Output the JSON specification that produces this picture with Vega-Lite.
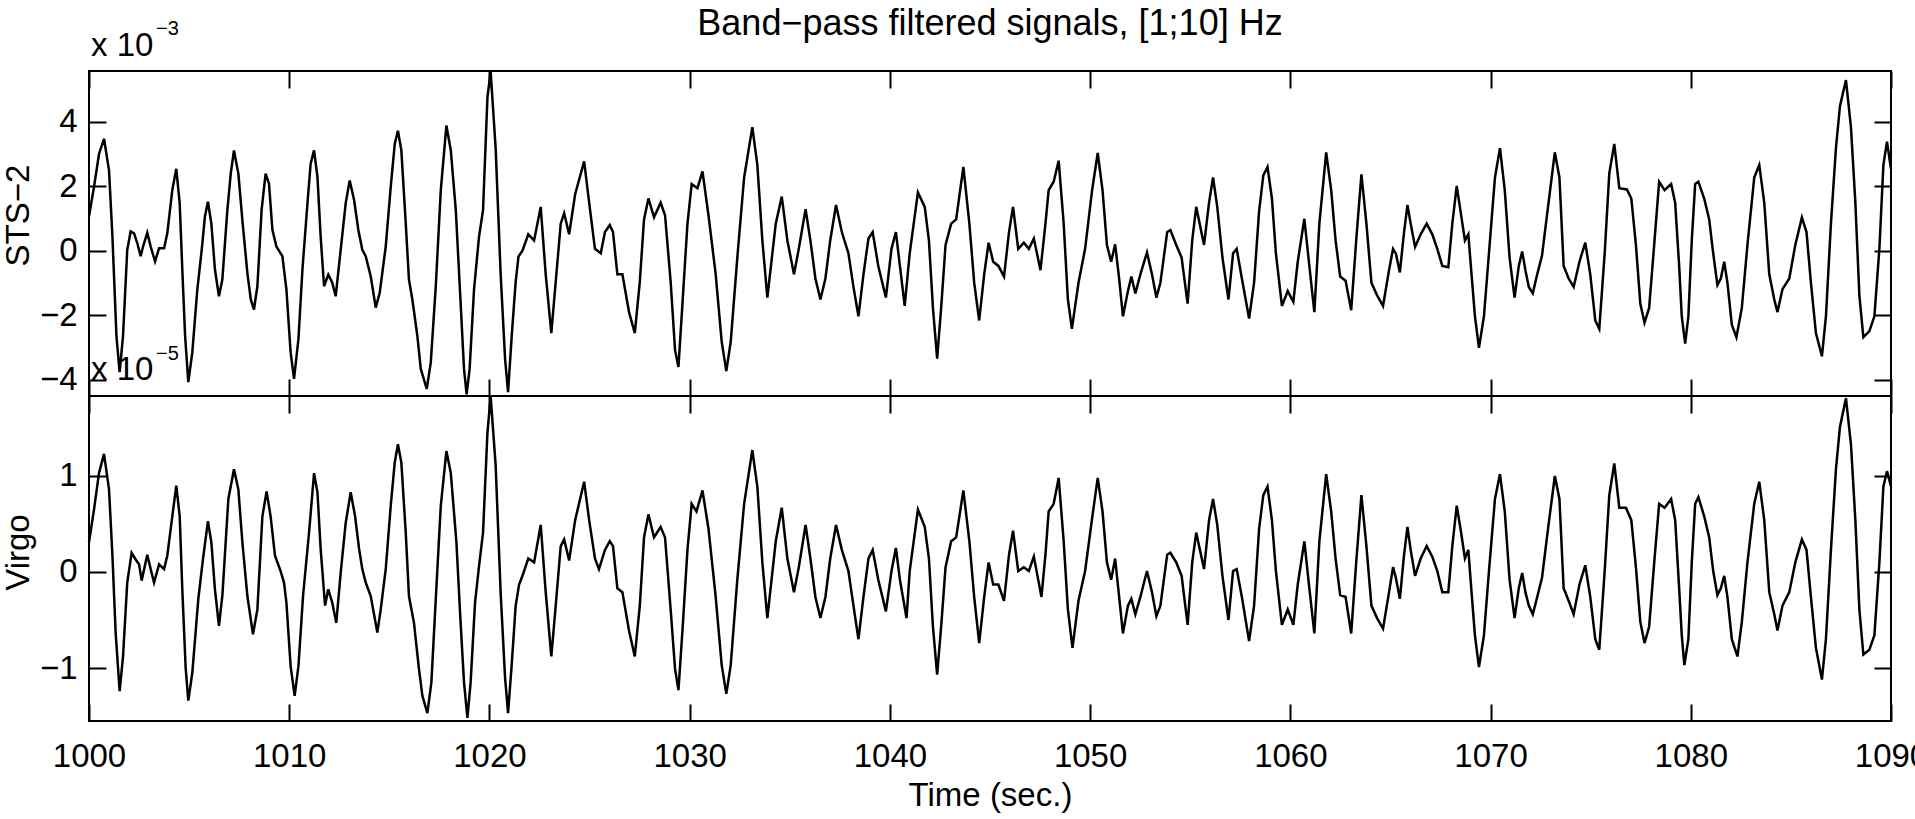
{
 "$schema": "https://vega.github.io/schema/vega-lite/v6.json",
 "padding": {"left": 1, "top": 5, "right": 0, "bottom": 0},
 "background": "white",
 "spacing": 0,
 "bounds": "flush",
 "config": {
  "view": {"stroke": "black", "strokeWidth": 2},
  "axis": {"domain": false, "grid": false, "ticks": true, "tickColor": "black", "tickWidth": 2, "tickSize": -17,
           "labelFont": "Liberation Sans", "labelFontSize": 33, "labelColor": "black", "labelFlush": false, "labelOverlap": false,
           "titleFont": "Liberation Sans", "titleFontSize": 33, "titleFontWeight": "normal", "titleColor": "black"},
  "text": {"font": "Liberation Sans", "color": "black"}
 },
 "datasets": {
  "sts_note": [{"t": 1000, "v": 5.57}],
  "virgo_note": [{"t": 1000, "v": 1.833}],
  "sts": [
{"t":1000.0,"v":1.06},{"t":1000.25,"v":1.98},{"t":1000.5,"v":3.0},{"t":1000.75,"v":3.47},{"t":1001.0,"v":2.49},{"t":1001.17,"v":0.44},{"t":1001.37,"v":-2.64},{"t":1001.53,"v":-3.76},{"t":1001.7,"v":-2.64},{"t":1001.91,"v":0.03},{"t":1002.08,"v":0.6},{"t":1002.25,"v":0.54},{"t":1002.41,"v":0.24},{"t":1002.58,"v":-0.17},{"t":1002.7,"v":0.13},{"t":1002.91,"v":0.56},{"t":1003.08,"v":0.13},{"t":1003.3,"v":-0.33},{"t":1003.5,"v":0.08},{"t":1003.75,"v":0.08},{"t":1003.91,"v":0.54},{"t":1004.16,"v":1.88},{"t":1004.36,"v":2.54},{"t":1004.53,"v":1.47},{"t":1004.66,"v":-0.58},{"t":1004.8,"v":-2.64},{"t":1004.96,"v":-4.07},{"t":1005.16,"v":-3.15},{"t":1005.41,"v":-1.2},{"t":1005.63,"v":0.03},{"t":1005.79,"v":1.06},{"t":1005.94,"v":1.52},{"t":1006.11,"v":0.85},{"t":1006.29,"v":-0.58},{"t":1006.49,"v":-1.41},{"t":1006.66,"v":-0.89},{"t":1006.91,"v":1.26},{"t":1007.08,"v":2.39},{"t":1007.24,"v":3.11},{"t":1007.46,"v":2.39},{"t":1007.66,"v":0.95},{"t":1007.91,"v":-0.69},{"t":1008.08,"v":-1.51},{"t":1008.24,"v":-1.82},{"t":1008.41,"v":-1.1},{"t":1008.62,"v":1.26},{"t":1008.82,"v":2.39},{"t":1008.99,"v":2.08},{"t":1009.16,"v":0.65},{"t":1009.36,"v":0.13},{"t":1009.66,"v":-0.17},{"t":1009.86,"v":-1.2},{"t":1010.07,"v":-3.15},{"t":1010.24,"v":-3.97},{"t":1010.46,"v":-2.74},{"t":1010.66,"v":-0.58},{"t":1010.91,"v":1.47},{"t":1011.07,"v":2.7},{"t":1011.24,"v":3.11},{"t":1011.41,"v":2.29},{"t":1011.57,"v":0.44},{"t":1011.74,"v":-1.1},{"t":1011.95,"v":-0.74},{"t":1012.15,"v":-0.99},{"t":1012.32,"v":-1.41},{"t":1012.57,"v":0.03},{"t":1012.82,"v":1.47},{"t":1013.02,"v":2.18},{"t":1013.24,"v":1.57},{"t":1013.45,"v":0.65},{"t":1013.65,"v":0.03},{"t":1013.82,"v":-0.17},{"t":1014.07,"v":-0.79},{"t":1014.32,"v":-1.76},{"t":1014.52,"v":-1.3},{"t":1014.82,"v":0.13},{"t":1015.07,"v":1.98},{"t":1015.27,"v":3.31},{"t":1015.43,"v":3.72},{"t":1015.6,"v":3.11},{"t":1015.82,"v":0.85},{"t":1015.98,"v":-0.89},{"t":1016.15,"v":-1.51},{"t":1016.4,"v":-2.64},{"t":1016.57,"v":-3.66},{"t":1016.87,"v":-4.28},{"t":1017.07,"v":-3.46},{"t":1017.32,"v":-1.1},{"t":1017.57,"v":1.88},{"t":1017.85,"v":3.88},{"t":1018.07,"v":3.11},{"t":1018.32,"v":1.26},{"t":1018.56,"v":-1.61},{"t":1018.73,"v":-3.66},{"t":1018.86,"v":-4.45},{"t":1019.01,"v":-3.66},{"t":1019.23,"v":-1.2},{"t":1019.48,"v":0.44},{"t":1019.68,"v":1.26},{"t":1019.9,"v":4.75},{"t":1020.06,"v":5.55},
{"t":1020.31,"v":3.18},{"t":1020.56,"v":-0.73},{"t":1020.78,"v":-3.34},{"t":1020.93,"v":-4.38},{"t":1021.11,"v":-2.66},{"t":1021.31,"v":-0.96},{"t":1021.45,"v":-0.18},{"t":1021.65,"v":0.0},{"t":1021.94,"v":0.51},{"t":1022.23,"v":0.32},{"t":1022.56,"v":1.36},{"t":1022.81,"v":-0.73},{"t":1023.09,"v":-2.55},{"t":1023.31,"v":-0.96},{"t":1023.56,"v":0.84},{"t":1023.73,"v":1.16},{"t":1023.98,"v":0.51},{"t":1024.28,"v":1.75},{"t":1024.73,"v":2.77},{"t":1024.98,"v":1.49},{"t":1025.27,"v":0.06},{"t":1025.56,"v":-0.08},{"t":1025.77,"v":0.58},{"t":1026.01,"v":0.8},{"t":1026.17,"v":0.58},{"t":1026.39,"v":-0.73},{"t":1026.64,"v":-0.73},{"t":1026.97,"v":-1.9},{"t":1027.26,"v":-2.55},{"t":1027.51,"v":-0.96},{"t":1027.72,"v":0.97},{"t":1027.94,"v":1.62},{"t":1028.22,"v":1.04},{"t":1028.55,"v":1.49},{"t":1028.77,"v":1.1},{"t":1029.05,"v":-0.96},{"t":1029.27,"v":-3.08},{"t":1029.44,"v":-3.6},{"t":1029.64,"v":-1.64},{"t":1029.89,"v":0.84},{"t":1030.1,"v":2.07},{"t":1030.39,"v":1.94},{"t":1030.64,"v":2.46},{"t":1030.94,"v":1.1},{"t":1031.3,"v":-0.73},{"t":1031.6,"v":-2.82},{"t":1031.83,"v":-3.73},{"t":1032.05,"v":-2.82},{"t":1032.38,"v":-0.21},{"t":1032.72,"v":2.27},{"t":1033.13,"v":3.83},{"t":1033.38,"v":2.66},{"t":1033.63,"v":0.32},{"t":1033.88,"v":-1.45},{"t":1034.3,"v":0.84},{"t":1034.6,"v":1.68},{"t":1034.88,"v":0.32},
{"t":1035.21,"v":-0.73},{"t":1035.45,"v":0.06},{"t":1035.79,"v":1.29},{"t":1036.03,"v":0.32},{"t":1036.28,"v":-0.86},{"t":1036.53,"v":-1.51},{"t":1036.78,"v":-0.86},{"t":1037.02,"v":0.32},{"t":1037.31,"v":1.42},{"t":1037.6,"v":0.58},{"t":1037.93,"v":-0.08},{"t":1038.18,"v":-1.12},{"t":1038.43,"v":-2.03},{"t":1038.68,"v":-0.73},{"t":1038.93,"v":0.38},{"t":1039.14,"v":0.58},{"t":1039.42,"v":-0.47},{"t":1039.8,"v":-1.45},{"t":1040.08,"v":0.06},{"t":1040.3,"v":0.58},{"t":1040.5,"v":-0.47},{"t":1040.74,"v":-1.71},{"t":1040.99,"v":-0.08},{"t":1041.4,"v":1.81},{"t":1041.74,"v":1.36},{"t":1041.95,"v":0.32},{"t":1042.15,"v":-1.77},{"t":1042.36,"v":-3.34},{"t":1042.56,"v":-1.77},{"t":1042.78,"v":0.18},{"t":1043.06,"v":0.84},{"t":1043.31,"v":0.97},{"t":1043.67,"v":2.6},{"t":1043.97,"v":0.84},{"t":1044.21,"v":-0.99},{"t":1044.46,"v":-2.16},{"t":1044.71,"v":-0.73},{"t":1044.93,"v":0.25},{"t":1045.16,"v":-0.34},{"t":1045.42,"v":-0.47},{"t":1045.7,"v":-0.8},{"t":1045.95,"v":0.58},{"t":1046.15,"v":1.36},{"t":1046.41,"v":0.06},{"t":1046.69,"v":0.25},{"t":1046.94,"v":0.06},{"t":1047.19,"v":0.38},{"t":1047.52,"v":-0.6},{"t":1047.77,"v":0.84},{"t":1047.93,"v":1.88},{"t":1048.18,"v":2.14},{"t":1048.43,"v":2.79},{"t":1048.68,"v":0.84},{"t":1048.89,"v":-1.51},{"t":1049.09,"v":-2.42},{"t":1049.42,"v":-0.99},{"t":1049.75,"v":0.06},{"t":1050.1,"v":1.88},
{"t":1050.38,"v":3.03},{"t":1050.62,"v":1.88},{"t":1050.84,"v":0.18},{"t":1051.05,"v":-0.34},{"t":1051.25,"v":0.2},{"t":1051.45,"v":-0.86},{"t":1051.64,"v":-2.03},{"t":1051.89,"v":-1.25},{"t":1052.06,"v":-0.8},{"t":1052.26,"v":-1.32},{"t":1052.51,"v":-0.73},{"t":1052.84,"v":-0.05},{"t":1053.09,"v":-0.73},{"t":1053.31,"v":-1.45},{"t":1053.51,"v":-0.99},{"t":1053.85,"v":0.58},{"t":1054.01,"v":0.64},{"t":1054.3,"v":0.18},{"t":1054.57,"v":-0.21},{"t":1054.87,"v":-1.64},{"t":1055.1,"v":0.32},{"t":1055.3,"v":1.36},{"t":1055.69,"v":0.18},{"t":1055.94,"v":1.49},{"t":1056.14,"v":2.27},{"t":1056.35,"v":1.36},{"t":1056.61,"v":-0.21},{"t":1056.91,"v":-1.51},{"t":1057.14,"v":-0.08},{"t":1057.32,"v":0.06},{"t":1057.58,"v":-0.86},{"t":1057.94,"v":-2.1},{"t":1058.19,"v":-0.99},{"t":1058.44,"v":1.23},{"t":1058.65,"v":2.34},{"t":1058.86,"v":2.6},{"t":1059.08,"v":1.62},{"t":1059.28,"v":-0.08},{"t":1059.58,"v":-1.71},{"t":1059.87,"v":-1.25},{"t":1060.15,"v":-1.58},{"t":1060.37,"v":-0.34},{"t":1060.7,"v":0.99},{"t":1060.95,"v":-0.47},{"t":1061.2,"v":-1.9},{"t":1061.45,"v":0.84},{"t":1061.79,"v":3.05},{"t":1062.04,"v":1.88},{"t":1062.26,"v":0.32},{"t":1062.49,"v":-0.8},{"t":1062.76,"v":-0.93},{"t":1063.04,"v":-1.84},{"t":1063.29,"v":0.32},{"t":1063.55,"v":2.37},{"t":1063.8,"v":0.84},{"t":1064.05,"v":-0.99},{"t":1064.33,"v":-1.38},{"t":1064.63,"v":-1.71},{"t":1064.93,"v":-0.6},
{"t":1065.13,"v":0.06},{"t":1065.27,"v":-0.08},{"t":1065.47,"v":-0.67},{"t":1065.68,"v":0.58},{"t":1065.85,"v":1.42},{"t":1066.01,"v":0.84},{"t":1066.23,"v":0.12},{"t":1066.51,"v":0.51},{"t":1066.81,"v":0.84},{"t":1067.09,"v":0.51},{"t":1067.34,"v":0.06},{"t":1067.59,"v":-0.47},{"t":1067.89,"v":-0.51},{"t":1068.09,"v":0.84},{"t":1068.31,"v":2.01},{"t":1068.5,"v":1.23},{"t":1068.72,"v":0.32},{"t":1068.89,"v":0.51},{"t":1069.05,"v":-0.73},{"t":1069.22,"v":-2.03},{"t":1069.42,"v":-3.01},{"t":1069.67,"v":-2.03},{"t":1069.92,"v":-0.08},{"t":1070.22,"v":2.27},{"t":1070.47,"v":3.18},{"t":1070.71,"v":1.88},{"t":1070.95,"v":-0.21},{"t":1071.2,"v":-1.45},{"t":1071.41,"v":-0.47},{"t":1071.58,"v":-0.02},{"t":1071.74,"v":-0.6},{"t":1071.91,"v":-1.12},{"t":1072.11,"v":-1.32},{"t":1072.33,"v":-0.73},{"t":1072.57,"v":-0.15},{"t":1072.87,"v":1.36},{"t":1073.21,"v":3.05},{"t":1073.44,"v":2.27},{"t":1073.65,"v":-0.47},{"t":1073.9,"v":-0.86},{"t":1074.15,"v":-1.12},{"t":1074.44,"v":-0.34},{"t":1074.73,"v":0.25},{"t":1074.98,"v":-0.73},{"t":1075.23,"v":-2.16},{"t":1075.43,"v":-2.42},{"t":1075.7,"v":-0.08},{"t":1075.93,"v":2.4},{"t":1076.18,"v":3.31},{"t":1076.43,"v":1.94},{"t":1076.81,"v":1.9},{"t":1077.03,"v":1.62},{"t":1077.26,"v":0.18},{"t":1077.48,"v":-1.64},{"t":1077.69,"v":-2.23},{"t":1077.92,"v":-1.77},{"t":1078.19,"v":0.32},{"t":1078.42,"v":2.14},{"t":1078.69,"v":1.88},{"t":1079.02,"v":2.07},{"t":1079.22,"v":1.49},{"t":1079.42,"v":-0.47},{"t":1079.55,"v":-2.03},{"t":1079.72,"v":-2.88},{"t":1079.88,"v":-2.03},{"t":1080.05,"v":0.32},{"t":1080.22,"v":2.07},
{"t":1080.38,"v":2.14},{"t":1080.67,"v":1.62},{"t":1080.92,"v":0.97},{"t":1081.12,"v":-0.08},{"t":1081.33,"v":-1.06},{"t":1081.5,"v":-0.86},{"t":1081.67,"v":-0.34},{"t":1081.83,"v":-0.99},{"t":1082.05,"v":-2.29},{"t":1082.28,"v":-2.68},{"t":1082.55,"v":-1.77},{"t":1082.83,"v":0.18},{"t":1083.17,"v":2.27},{"t":1083.42,"v":2.66},{"t":1083.67,"v":1.49},{"t":1083.92,"v":-0.73},{"t":1084.17,"v":-1.51},{"t":1084.33,"v":-1.9},{"t":1084.58,"v":-1.19},{"t":1084.92,"v":-0.86},{"t":1085.22,"v":0.18},{"t":1085.55,"v":1.03},{"t":1085.78,"v":0.58},{"t":1086.0,"v":-0.99},{"t":1086.25,"v":-2.55},{"t":1086.55,"v":-3.27},{"t":1086.75,"v":-2.03},{"t":1087.0,"v":0.84},{"t":1087.25,"v":3.18},{"t":1087.45,"v":4.48},{"t":1087.75,"v":5.29},{"t":1088.0,"v":3.83},{"t":1088.22,"v":1.49},{"t":1088.42,"v":-1.38},{"t":1088.62,"v":-2.68},{"t":1088.92,"v":-2.49},{"t":1089.17,"v":-2.03},{"t":1089.42,"v":0.06},{"t":1089.62,"v":2.66},{"t":1089.8,"v":3.38},{"t":1090.0,"v":2.53}
  ],
  "virgo": [
{"t":1000.0,"v":0.31},{"t":1000.25,"v":0.65},{"t":1000.5,"v":1.03},{"t":1000.75,"v":1.23},{"t":1001.0,"v":0.86},{"t":1001.17,"v":0.17},{"t":1001.33,"v":-0.63},{"t":1001.53,"v":-1.24},{"t":1001.7,"v":-0.88},{"t":1001.91,"v":-0.11},{"t":1002.13,"v":0.2},{"t":1002.33,"v":0.13},{"t":1002.5,"v":0.08},{"t":1002.63,"v":-0.09},{"t":1002.91,"v":0.18},{"t":1003.08,"v":0.03},{"t":1003.25,"v":-0.11},{"t":1003.5,"v":0.08},{"t":1003.75,"v":0.03},{"t":1003.91,"v":0.17},{"t":1004.16,"v":0.58},{"t":1004.36,"v":0.9},{"t":1004.53,"v":0.58},{"t":1004.66,"v":-0.18},{"t":1004.83,"v":-1.01},{"t":1004.96,"v":-1.34},{"t":1005.16,"v":-1.05},{"t":1005.46,"v":-0.28},{"t":1005.69,"v":0.13},{"t":1005.94,"v":0.53},{"t":1006.11,"v":0.31},{"t":1006.29,"v":-0.18},{"t":1006.49,"v":-0.56},{"t":1006.66,"v":-0.25},{"t":1006.96,"v":0.76},{"t":1007.24,"v":1.07},{"t":1007.46,"v":0.86},{"t":1007.66,"v":0.31},{"t":1007.91,"v":-0.25},{"t":1008.19,"v":-0.65},{"t":1008.41,"v":-0.39},{"t":1008.66,"v":0.58},{"t":1008.87,"v":0.84},{"t":1009.07,"v":0.58},{"t":1009.29,"v":0.17},{"t":1009.57,"v":0.01},{"t":1009.74,"v":-0.11},{"t":1009.86,"v":-0.32},{"t":1010.07,"v":-0.98},{"t":1010.27,"v":-1.29},{"t":1010.46,"v":-0.98},{"t":1010.69,"v":-0.25},{"t":1010.99,"v":0.41},{"t":1011.24,"v":1.03},{"t":1011.41,"v":0.83},{"t":1011.57,"v":0.24},{"t":1011.79,"v":-0.35},{"t":1011.95,"v":-0.18},{"t":1012.15,"v":-0.32},{"t":1012.35,"v":-0.53},{"t":1012.57,"v":-0.01},{"t":1012.82,"v":0.51},{"t":1013.07,"v":0.83},{"t":1013.29,"v":0.58},{"t":1013.49,"v":0.24},{"t":1013.65,"v":0.03},{"t":1013.82,"v":-0.11},{"t":1014.07,"v":-0.25},{"t":1014.4,"v":-0.63},{"t":1014.57,"v":-0.39},{"t":1014.82,"v":0.03},{"t":1015.07,"v":0.69},{"t":1015.27,"v":1.14},{"t":1015.43,"v":1.33},{"t":1015.6,"v":1.14},{"t":1015.82,"v":0.41},{"t":1015.98,"v":-0.25},{"t":1016.23,"v":-0.53},{"t":1016.48,"v":-1.01},{"t":1016.65,"v":-1.29},{"t":1016.9,"v":-1.47},{"t":1017.1,"v":-1.15},{"t":1017.32,"v":-0.28},{"t":1017.57,"v":0.69},{"t":1017.85,"v":1.26},{"t":1018.07,"v":1.03},{"t":1018.35,"v":0.31},{"t":1018.56,"v":-0.53},{"t":1018.73,"v":-1.15},{"t":1018.9,"v":-1.52},{"t":1019.06,"v":-1.15},{"t":1019.28,"v":-0.32},{"t":1019.48,"v":0.06},{"t":1019.68,"v":0.41},{"t":1019.9,"v":1.45},{"t":1020.06,"v":1.83},
{"t":1020.31,"v":1.11},{"t":1020.56,"v":-0.22},{"t":1020.78,"v":-1.1},{"t":1020.93,"v":-1.47},{"t":1021.11,"v":-0.97},{"t":1021.31,"v":-0.35},{"t":1021.48,"v":-0.13},{"t":1021.65,"v":-0.04},{"t":1021.94,"v":0.14},{"t":1022.23,"v":0.1},{"t":1022.56,"v":0.49},{"t":1022.81,"v":-0.21},{"t":1023.09,"v":-0.88},{"t":1023.31,"v":-0.35},{"t":1023.56,"v":0.27},{"t":1023.73,"v":0.34},{"t":1023.98,"v":0.12},{"t":1024.28,"v":0.54},{"t":1024.73,"v":0.94},{"t":1024.98,"v":0.54},{"t":1025.27,"v":0.14},{"t":1025.47,"v":0.03},{"t":1025.77,"v":0.23},{"t":1026.01,"v":0.32},{"t":1026.17,"v":0.27},{"t":1026.39,"v":-0.17},{"t":1026.64,"v":-0.21},{"t":1026.97,"v":-0.61},{"t":1027.26,"v":-0.88},{"t":1027.51,"v":-0.35},{"t":1027.72,"v":0.36},{"t":1027.94,"v":0.6},{"t":1028.22,"v":0.36},{"t":1028.55,"v":0.47},{"t":1028.77,"v":0.36},{"t":1029.05,"v":-0.39},{"t":1029.27,"v":-1.01},{"t":1029.44,"v":-1.23},{"t":1029.64,"v":-0.61},{"t":1029.89,"v":0.23},{"t":1030.1,"v":0.71},{"t":1030.34,"v":0.63},{"t":1030.64,"v":0.85},{"t":1030.94,"v":0.45},{"t":1031.3,"v":-0.26},{"t":1031.6,"v":-0.97},{"t":1031.83,"v":-1.27},{"t":1032.05,"v":-0.97},{"t":1032.38,"v":-0.08},{"t":1032.72,"v":0.71},{"t":1033.13,"v":1.27},{"t":1033.38,"v":0.89},{"t":1033.63,"v":0.1},{"t":1033.88,"v":-0.48},{"t":1034.3,"v":0.32},{"t":1034.6,"v":0.67},{"t":1034.88,"v":0.14},
{"t":1035.21,"v":-0.21},{"t":1035.45,"v":0.05},{"t":1035.79,"v":0.49},{"t":1036.03,"v":0.14},{"t":1036.28,"v":-0.26},{"t":1036.53,"v":-0.48},{"t":1036.78,"v":-0.26},{"t":1037.02,"v":0.14},{"t":1037.31,"v":0.49},{"t":1037.6,"v":0.23},{"t":1037.93,"v":0.01},{"t":1038.18,"v":-0.35},{"t":1038.43,"v":-0.7},{"t":1038.68,"v":-0.26},{"t":1038.93,"v":0.14},{"t":1039.14,"v":0.23},{"t":1039.42,"v":-0.08},{"t":1039.8,"v":-0.41},{"t":1040.08,"v":0.01},{"t":1040.3,"v":0.25},{"t":1040.5,"v":-0.08},{"t":1040.83,"v":-0.48},{"t":1040.99,"v":0.01},{"t":1041.4,"v":0.65},{"t":1041.74,"v":0.47},{"t":1041.95,"v":0.14},{"t":1042.15,"v":-0.57},{"t":1042.36,"v":-1.07},{"t":1042.56,"v":-0.57},{"t":1042.78,"v":0.05},{"t":1043.06,"v":0.32},{"t":1043.31,"v":0.36},{"t":1043.67,"v":0.85},{"t":1043.97,"v":0.32},{"t":1044.21,"v":-0.26},{"t":1044.46,"v":-0.74},{"t":1044.71,"v":-0.26},{"t":1044.93,"v":0.1},{"t":1045.16,"v":-0.13},{"t":1045.42,"v":-0.13},{"t":1045.7,"v":-0.3},{"t":1045.95,"v":0.18},{"t":1046.15,"v":0.43},{"t":1046.41,"v":0.01},{"t":1046.69,"v":0.05},{"t":1046.94,"v":0.01},{"t":1047.19,"v":0.16},{"t":1047.57,"v":-0.26},{"t":1047.77,"v":0.18},{"t":1047.93,"v":0.63},{"t":1048.18,"v":0.71},{"t":1048.43,"v":0.98},{"t":1048.68,"v":0.32},{"t":1048.89,"v":-0.39},{"t":1049.12,"v":-0.79},{"t":1049.42,"v":-0.3},{"t":1049.75,"v":0.01},{"t":1050.1,"v":0.56},
{"t":1050.38,"v":0.98},{"t":1050.62,"v":0.63},{"t":1050.84,"v":0.1},{"t":1051.05,"v":-0.08},{"t":1051.25,"v":0.14},{"t":1051.45,"v":-0.26},{"t":1051.64,"v":-0.64},{"t":1051.89,"v":-0.35},{"t":1052.06,"v":-0.28},{"t":1052.26,"v":-0.44},{"t":1052.51,"v":-0.26},{"t":1052.84,"v":0.01},{"t":1053.09,"v":-0.21},{"t":1053.31,"v":-0.46},{"t":1053.51,"v":-0.35},{"t":1053.85,"v":0.18},{"t":1054.01,"v":0.2},{"t":1054.3,"v":0.1},{"t":1054.57,"v":-0.04},{"t":1054.87,"v":-0.55},{"t":1055.1,"v":0.1},{"t":1055.3,"v":0.41},{"t":1055.69,"v":0.03},{"t":1055.94,"v":0.54},{"t":1056.14,"v":0.76},{"t":1056.35,"v":0.49},{"t":1056.61,"v":-0.04},{"t":1056.91,"v":-0.5},{"t":1057.14,"v":0.01},{"t":1057.32,"v":0.03},{"t":1057.58,"v":-0.26},{"t":1057.94,"v":-0.72},{"t":1058.19,"v":-0.35},{"t":1058.44,"v":0.45},{"t":1058.65,"v":0.8},{"t":1058.86,"v":0.89},{"t":1059.08,"v":0.54},{"t":1059.28,"v":0.01},{"t":1059.58,"v":-0.55},{"t":1059.87,"v":-0.39},{"t":1060.15,"v":-0.55},{"t":1060.37,"v":-0.13},{"t":1060.7,"v":0.32},{"t":1060.95,"v":-0.17},{"t":1061.2,"v":-0.64},{"t":1061.45,"v":0.32},{"t":1061.79,"v":1.02},{"t":1062.04,"v":0.63},{"t":1062.26,"v":0.14},{"t":1062.49,"v":-0.24},{"t":1062.76,"v":-0.26},{"t":1063.04,"v":-0.64},{"t":1063.29,"v":0.1},{"t":1063.55,"v":0.8},{"t":1063.8,"v":0.27},{"t":1064.05,"v":-0.35},{"t":1064.33,"v":-0.48},{"t":1064.63,"v":-0.59},{"t":1064.93,"v":-0.21},
{"t":1065.13,"v":0.05},{"t":1065.27,"v":-0.06},{"t":1065.47,"v":-0.28},{"t":1065.68,"v":0.18},{"t":1065.85,"v":0.47},{"t":1066.01,"v":0.23},{"t":1066.23,"v":-0.04},{"t":1066.51,"v":0.14},{"t":1066.81,"v":0.27},{"t":1067.09,"v":0.16},{"t":1067.34,"v":0.01},{"t":1067.59,"v":-0.21},{"t":1067.89,"v":-0.21},{"t":1068.09,"v":0.27},{"t":1068.31,"v":0.69},{"t":1068.5,"v":0.45},{"t":1068.72,"v":0.14},{"t":1068.89,"v":0.23},{"t":1069.05,"v":-0.21},{"t":1069.22,"v":-0.66},{"t":1069.42,"v":-0.99},{"t":1069.67,"v":-0.66},{"t":1069.92,"v":0.01},{"t":1070.22,"v":0.76},{"t":1070.47,"v":1.02},{"t":1070.71,"v":0.63},{"t":1070.95,"v":-0.08},{"t":1071.2,"v":-0.48},{"t":1071.41,"v":-0.17},{"t":1071.58,"v":-0.01},{"t":1071.74,"v":-0.21},{"t":1071.91,"v":-0.35},{"t":1072.11,"v":-0.44},{"t":1072.33,"v":-0.26},{"t":1072.57,"v":-0.06},{"t":1072.87,"v":0.45},{"t":1073.21,"v":1.0},{"t":1073.44,"v":0.76},{"t":1073.65,"v":-0.17},{"t":1073.9,"v":-0.3},{"t":1074.15,"v":-0.44},{"t":1074.44,"v":-0.13},{"t":1074.73,"v":0.07},{"t":1074.98,"v":-0.26},{"t":1075.23,"v":-0.7},{"t":1075.43,"v":-0.81},{"t":1075.7,"v":0.01},{"t":1075.93,"v":0.8},{"t":1076.18,"v":1.13},{"t":1076.43,"v":0.67},{"t":1076.76,"v":0.67},{"t":1077.03,"v":0.54},{"t":1077.26,"v":0.05},{"t":1077.48,"v":-0.52},{"t":1077.69,"v":-0.74},{"t":1077.92,"v":-0.57},{"t":1078.19,"v":0.14},{"t":1078.42,"v":0.71},{"t":1078.69,"v":0.67},{"t":1079.02,"v":0.76},{"t":1079.22,"v":0.54},{"t":1079.42,"v":-0.17},{"t":1079.55,"v":-0.66},{"t":1079.68,"v":-0.97},{"t":1079.88,"v":-0.7},{"t":1080.05,"v":0.1},{"t":1080.22,"v":0.71},
{"t":1080.38,"v":0.78},{"t":1080.67,"v":0.58},{"t":1080.92,"v":0.36},{"t":1081.12,"v":0.01},{"t":1081.33,"v":-0.24},{"t":1081.5,"v":-0.17},{"t":1081.67,"v":-0.04},{"t":1081.83,"v":-0.26},{"t":1082.05,"v":-0.7},{"t":1082.33,"v":-0.88},{"t":1082.55,"v":-0.52},{"t":1082.83,"v":0.1},{"t":1083.17,"v":0.71},{"t":1083.42,"v":0.94},{"t":1083.67,"v":0.54},{"t":1083.92,"v":-0.21},{"t":1084.17,"v":-0.44},{"t":1084.33,"v":-0.61},{"t":1084.58,"v":-0.35},{"t":1084.92,"v":-0.21},{"t":1085.22,"v":0.1},{"t":1085.55,"v":0.34},{"t":1085.78,"v":0.23},{"t":1086.0,"v":-0.26},{"t":1086.25,"v":-0.79},{"t":1086.55,"v":-1.12},{"t":1086.75,"v":-0.7},{"t":1087.0,"v":0.23},{"t":1087.25,"v":1.07},{"t":1087.45,"v":1.51},{"t":1087.75,"v":1.81},{"t":1088.0,"v":1.33},{"t":1088.22,"v":0.54},{"t":1088.42,"v":-0.39},{"t":1088.62,"v":-0.86},{"t":1088.92,"v":-0.81},{"t":1089.17,"v":-0.66},{"t":1089.42,"v":0.1},{"t":1089.62,"v":0.89},{"t":1089.8,"v":1.05},{"t":1090.0,"v":0.89}
  ]
 },
 "vconcat": [
  {
   "width": 1802, "height": 325,
   "title": {"text": "Band−pass filtered signals, [1;10] Hz", "font": "Liberation Sans", "fontSize": 36, "fontWeight": "normal", "color": "black", "anchor": "middle", "frame": "group", "baseline": "alphabetic", "offset": 35, "dy": 87},
   "resolve": {"axis": {"x": "independent", "y": "independent"}},
   "layer": [
    {"data": {"name": "sts"}, "mark": {"type": "line", "color": "black", "strokeWidth": 2.5},
     "encoding": {
      "x": {"field": "t", "type": "quantitative", "scale": {"domain": [1000, 1090], "nice": false, "zero": false},
            "axis": {"orient": "bottom", "values": [1000,1010,1020,1030,1040,1050,1060,1070,1080,1090], "labels": false, "title": null}},
      "y": {"field": "v", "type": "quantitative", "scale": {"domain": [-4.5, 5.57], "nice": false, "zero": false},
            "axis": {"orient": "left", "values": [-4,-2,0,2,4], "title": "STS−2", "labelPadding": 29, "titlePadding": 4, "titleY": 144}}
     }},
    {"data": {"name": "sts_note"}, "mark": {"type": "text", "text": "x 10", "fontSize": 33, "align": "left", "baseline": "alphabetic", "dx": 2, "dy": -15},
     "encoding": {
      "x": {"field": "t", "type": "quantitative", "axis": {"orient": "top", "values": [1000,1010,1020,1030,1040,1050,1060,1070,1080,1090], "labels": false, "title": null}},
      "y": {"field": "v", "type": "quantitative", "axis": {"orient": "right", "values": [-4,-2,0,2,4], "labels": false, "title": null}}
     }},
    {"data": {"name": "sts_note"}, "mark": {"type": "text", "text": "−3", "fontSize": 20, "align": "left", "baseline": "alphabetic", "dx": 67, "dy": -36},
     "encoding": {
      "x": {"field": "t", "type": "quantitative", "axis": null},
      "y": {"field": "v", "type": "quantitative", "axis": null}
     }}
   ]
  },
  {
   "width": 1802, "height": 325,
   "resolve": {"axis": {"x": "independent", "y": "independent"}},
   "layer": [
    {"data": {"name": "virgo"}, "mark": {"type": "line", "color": "black", "strokeWidth": 2.5},
     "encoding": {
      "x": {"field": "t", "type": "quantitative", "scale": {"domain": [1000, 1090], "nice": false, "zero": false},
            "axis": {"orient": "bottom", "values": [1000,1010,1020,1030,1040,1050,1060,1070,1080,1090], "format": "d", "title": "Time (sec.)", "labelPadding": 36, "titlePadding": 6}},
      "y": {"field": "v", "type": "quantitative", "scale": {"domain": [-1.552, 1.833], "nice": false, "zero": false},
            "axis": {"orient": "left", "values": [-1,0,1], "title": "Virgo", "labelPadding": 29, "titlePadding": 4, "titleY": 156}}
     }},
    {"data": {"name": "virgo_note"}, "mark": {"type": "text", "text": "x 10", "fontSize": 33, "align": "left", "baseline": "alphabetic", "dx": 2, "dy": -16},
     "encoding": {
      "x": {"field": "t", "type": "quantitative", "axis": {"orient": "top", "values": [1000,1010,1020,1030,1040,1050,1060,1070,1080,1090], "labels": false, "title": null}},
      "y": {"field": "v", "type": "quantitative", "axis": {"orient": "right", "values": [-1,0,1], "labels": false, "title": null}}
     }},
    {"data": {"name": "virgo_note"}, "mark": {"type": "text", "text": "−5", "fontSize": 20, "align": "left", "baseline": "alphabetic", "dx": 67, "dy": -36},
     "encoding": {
      "x": {"field": "t", "type": "quantitative", "axis": null},
      "y": {"field": "v", "type": "quantitative", "axis": null}
     }}
   ]
  }
 ]
}
